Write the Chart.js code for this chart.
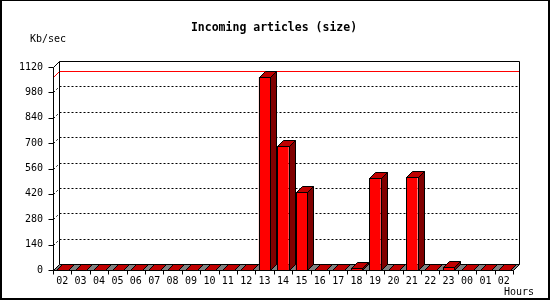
<!DOCTYPE html>
<html>
<head>
<meta charset="utf-8">
<script src="https://cdn.jsdelivr.net/npm/chart.js@4.4.0/dist/chart.umd.min.js"></script>
<style>
    html, body { margin: 0; padding: 0; background: #fff; }
    #grafico { display: block; }
</style>
</head>
<body>
<canvas id="grafico" width="550" height="300"></canvas>
<script>
const horas = ['02', '03', '04', '05', '06', '07', '08', '09', '10', '11', '12', '13',
    '14', '15', '16', '17', '18', '19', '20', '21', '22', '23', '00', '01', '02'];
const kbPorSeg = [0, 0, 0, 0, 0, 0, 0, 0, 0, 0, 0, 1065,
    684, 429, 0, 0, 12, 508, 0, 513, 0, 18, 0, 0, 0];
const ticksY = [0, 140, 280, 420, 560, 700, 840, 980, 1120];

const titulo = 'Incoming articles (size)';
const unidade = 'Kb/sec';
const rotuloX = 'Hours';

const PROF = 6; // profundidade do efeito 3d
const fonteMono = '"DejaVu Sans Mono", "Liberation Mono", monospace';

function linha(ctx, x1, y1, x2, y2) {
    ctx.beginPath();
    ctx.moveTo(x1, y1);
    ctx.lineTo(x2, y2);
    ctx.stroke();
}

function poligono(ctx, pontos, cor) {
    ctx.beginPath();
    ctx.moveTo(pontos[0][0], pontos[0][1]);
    for (let i = 1; i < pontos.length; i++) ctx.lineTo(pontos[i][0], pontos[i][1]);
    ctx.closePath();
    ctx.fillStyle = cor;
    ctx.fill();
    ctx.strokeStyle = '#000';
    ctx.lineWidth = 1;
    ctx.stroke();
}

const efeito3d = {
    id: 'efeito3d',
    beforeDatasetsDraw(chart) {
        const ctx = chart.ctx;
        const a = chart.chartArea;
        const y = chart.scales.y;
        const L = Math.round(a.left) + 0.5, R = Math.round(a.right) + 0.5;
        const T = Math.round(a.top) + 0.5, B = Math.round(a.bottom) + 0.5;
        ctx.save();

        // grade pontilhada (parede do fundo + parede lateral)
        ctx.strokeStyle = '#000';
        ctx.lineWidth = 1;
        ctx.setLineDash([2, 2]);
        ticksY.forEach(v => {
            if (v === 0 || v === ticksY[ticksY.length - 1]) return;
            const py = Math.round(y.getPixelForValue(v)) + 0.5;
            linha(ctx, L, py, L + PROF, py - PROF);
            linha(ctx, L + PROF, py - PROF, R + PROF, py - PROF);
        });
        ctx.setLineDash([]);

        // linha do maximo
        const maximo = Math.max(...kbPorSeg);
        const pm = Math.round(y.getPixelForValue(maximo)) + 0.5;
        ctx.strokeStyle = '#ff0000';
        linha(ctx, L, pm, L + PROF, pm - PROF);
        linha(ctx, L + PROF, pm - PROF, R + PROF, pm - PROF);

        // contorno das paredes
        ctx.strokeStyle = '#000';
        linha(ctx, L, T, L + PROF, T - PROF);
        linha(ctx, L + PROF, T - PROF, R + PROF, T - PROF);
        linha(ctx, R + PROF, T - PROF, R + PROF, B - PROF);
        linha(ctx, L + PROF, T - PROF, L + PROF, B - PROF);
        linha(ctx, L, T, L, B);

        // piso
        poligono(ctx, [[L, B], [R, B], [R + PROF, B - PROF], [L + PROF, B - PROF]], '#808080');

        // marcas dos eixos
        ticksY.forEach(v => {
            const py = Math.round(y.getPixelForValue(v)) + 0.5;
            linha(ctx, L - 5, py, L, py);
        });
        const passo = (a.right - a.left) / horas.length;
        for (let i = 0; i <= horas.length; i++) {
            const px = Math.round(a.left + i * passo) + 0.5;
            linha(ctx, px, B, px, B + 4);
        }
        ctx.restore();
    },
    afterDatasetsDraw(chart) {
        const ctx = chart.ctx;
        const meta = chart.getDatasetMeta(0);
        ctx.save();
        meta.data.forEach(barra => {
            const p = barra.getProps(['x', 'y', 'base', 'width'], true);
            const esq = Math.round(p.x - p.width / 2) + 0.5;
            const dir = Math.round(p.x + p.width / 2) + 0.5;
            const topo = Math.round(p.y) + 0.5;
            const base = Math.round(p.base) + 0.5;
            poligono(ctx, [[dir, topo], [dir + PROF, topo - PROF], [dir + PROF, base - PROF], [dir, base]], '#800000');
            poligono(ctx, [[esq, topo], [dir, topo], [dir + PROF, topo - PROF], [esq + PROF, topo - PROF]], '#c00000');
            if (base - topo >= 1) {
                ctx.strokeStyle = '#000';
                ctx.strokeRect(esq, topo, dir - esq, base - topo);
            }
        });
        ctx.restore();
    },
    afterDraw(chart) {
        const ctx = chart.ctx;
        ctx.save();
        ctx.fillStyle = '#000';
        ctx.textBaseline = 'middle';
        ctx.font = 'bold 11.5px ' + fonteMono;
        ctx.textAlign = 'center';
        ctx.fillText(titulo, 274, 28);
        ctx.font = '10px ' + fonteMono;
        ctx.textAlign = 'left';
        ctx.fillText(unidade, 30, 39);
        ctx.fillText(rotuloX, 504, 292);

        // moldura
        ctx.fillRect(0, 0, 550, 1);
        ctx.fillRect(0, 0, 2, 300);
        ctx.fillRect(548, 0, 2, 300);
        ctx.fillRect(0, 298, 550, 2);
        ctx.restore();
    }
};

const ctx = document.getElementById('grafico').getContext('2d');
const grafico = new Chart(ctx, {
    type: 'bar',
    data: {
        labels: horas,
        datasets: [{
            label: 'Incoming articles',
            data: kbPorSeg,
            backgroundColor: '#ff0000',
            borderWidth: 0,
            barPercentage: 0.62,
            categoryPercentage: 1
        }]
    },
    options: {
        responsive: false,
        animation: false,
        devicePixelRatio: 1,
        layout: { padding: { top: 67, right: 37, left: 0, bottom: 0 } },
        plugins: {
            legend: { display: false },
            title: { display: false },
            tooltip: { enabled: false }
        },
        scales: {
            x: {
                offset: true,
                grid: { display: false, drawTicks: false },
                border: { display: false },
                ticks: {
                    color: '#000',
                    font: { family: fonteMono, size: 10 },
                    padding: 5,
                    maxRotation: 0,
                    autoSkip: false
                },
                afterFit: function (scale) { scale.height = 30; }
            },
            y: {
                min: 0,
                max: 1120,
                grid: { display: false, drawTicks: false },
                border: { display: false },
                afterBuildTicks: function (scale) {
                    scale.ticks = ticksY.map(v => ({ value: v }));
                },
                ticks: {
                    color: '#000',
                    font: { family: fonteMono, size: 10 },
                    padding: 10,
                    callback: function (valor) { return String(valor); }
                },
                afterFit: function (scale) { scale.width = 53; }
            }
        }
    },
    plugins: [efeito3d]
});
</script>
</body>
</html>
